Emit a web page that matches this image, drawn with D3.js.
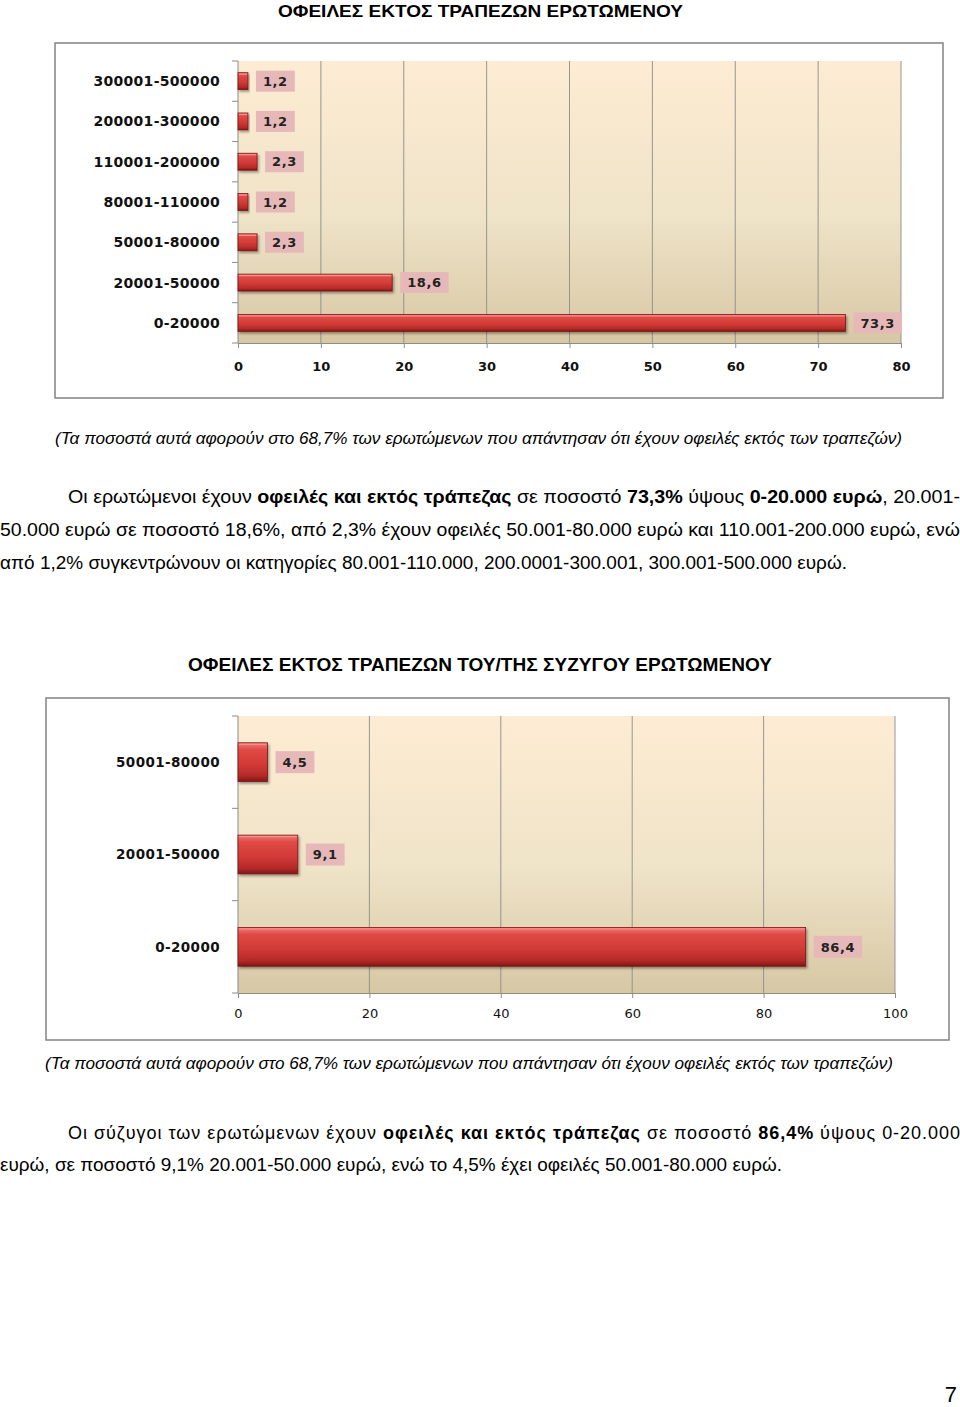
<!DOCTYPE html>
<html><head><meta charset="utf-8">
<script src="https://cdn.jsdelivr.net/npm/d3@7"></script>
<style>body{margin:0;background:#fff}svg{display:block}</style>
</head><body><svg id="c" width="960" height="1407"></svg>
<script>
// ---- data ----
const cats1 = ["300001-500000","200001-300000","110001-200000","80001-110000","50001-80000","20001-50000","0-20000"];
const vals1 = [1.2, 1.2, 2.3, 1.2, 2.3, 18.6, 73.3];
const ticks1 = [0,10,20,30,40,50,60,70,80];
const cats2 = ["50001-80000","20001-50000","0-20000"];
const vals2 = [4.5, 9.1, 86.4];
const ticks2 = [0,20,40,60,80,100];

const svg = d3.select("#c");
svg.append("rect").attr("width",960).attr("height",1407).attr("fill","#fff");
const defs = svg.append("defs");
const bg = defs.append("linearGradient").attr("id","plotbg").attr("x1",0).attr("y1",0).attr("x2",0).attr("y2",1);
bg.append("stop").attr("offset","0%").attr("stop-color","#fdecd3");
bg.append("stop").attr("offset","55%").attr("stop-color","#efe3c8");
bg.append("stop").attr("offset","100%").attr("stop-color","#d7c8a4");
const bar = defs.append("linearGradient").attr("id","bargrad").attr("x1",0).attr("y1",0).attr("x2",0).attr("y2",1);
[["0%","#ef7a74"],["18%","#e04a46"],["55%","#d23a37"],["85%","#b52a28"],["100%","#7e1716"]].forEach(s=>bar.append("stop").attr("offset",s[0]).attr("stop-color",s[1]));
const flt = defs.append("filter").attr("id","sh").attr("x","-10%").attr("y","-30%").attr("width","130%").attr("height","180%");
flt.append("feDropShadow").attr("dx",1.5).attr("dy",2).attr("stdDeviation",1.2).attr("flood-color","#000").attr("flood-opacity",0.35);

const fmt = v => String(v).replace(".", ",");

function drawChart(o){
  const g = svg.append("g");
  g.append("rect").attr("x",o.frame[0]).attr("y",o.frame[1]).attr("width",o.frame[2]).attr("height",o.frame[3])
    .attr("fill","#fff").attr("stroke","#8a8a8a").attr("stroke-width",1.6);
  const x = d3.scaleLinear().domain([0, o.max]).range([o.x0, o.x1]);
  const y = d3.scaleBand().domain(o.cats).range([o.y0, o.y1]).paddingInner(0.58).paddingOuter(0.29);
  g.append("rect").attr("x",o.x0).attr("y",o.y0).attr("width",o.x1-o.x0).attr("height",o.y1-o.y0).attr("fill","url(#plotbg)");
  // grid
  g.selectAll(".grid").data(o.ticks.slice(1)).join("line")
    .attr("x1",d=>x(d)).attr("x2",d=>x(d)).attr("y1",o.y0).attr("y2",o.y1)
    .attr("stroke","#8c8c8c").attr("stroke-width",0.9);
  // x axis
  const xa = g.append("g").attr("transform",`translate(0,${o.y1})`)
    .call(d3.axisBottom(x).tickValues(o.ticks).tickSize(5).tickSizeOuter(0).tickFormat(d3.format("d")));
  xa.select(".domain").attr("stroke","#8c8c8c");
  xa.selectAll(".tick line").attr("stroke","#8c8c8c");
  xa.selectAll("text").attr("font-family","DejaVu Sans, Verdana, sans-serif").attr("font-weight",o.tickBold?"bold":"normal")
    .attr("font-size",o.tickSize).attr("fill","#111").attr("dy",null).attr("y",o.tickDy);
  // y axis line + category ticks at boundaries
  g.append("line").attr("x1",o.x0).attr("x2",o.x0).attr("y1",o.y0).attr("y2",o.y1).attr("stroke","#8c8c8c");
  const bounds = d3.range(o.cats.length+1).map(i => o.y0 + i*(o.y1-o.y0)/o.cats.length);
  g.selectAll(".ct").data(bounds).join("line").attr("x1",o.x0-6).attr("x2",o.x0).attr("y1",d=>d).attr("y2",d=>d).attr("stroke","#8c8c8c");
  // category labels
  g.selectAll(".cl").data(o.cats).join("text")
    .attr("x",o.x0-18).attr("y",d=>y(d)+y.bandwidth()/2).attr("dy","0.36em")
    .attr("text-anchor","end").attr("font-family","DejaVu Sans, Verdana, sans-serif")
    .attr("font-weight","bold").attr("font-size",o.catSize).attr("fill","#111")
    .attr("letter-spacing",o.catLs).text(d=>d);
  // bars
  const data = o.cats.map((c,i)=>({c, v:o.vals[i]}));
  g.selectAll(".bar").data(data).join("rect")
    .attr("x",x(0)).attr("y",d=>y(d.c)).attr("width",d=>x(d.v)-x(0)).attr("height",y.bandwidth())
    .attr("fill","url(#bargrad)").attr("stroke","#7a1514").attr("stroke-width",0.8).attr("filter","url(#sh)");
  g.selectAll(".hl").data(data).join("line")
    .attr("x1",x(0)+1).attr("x2",d=>x(d.v)-1).attr("y1",d=>y(d.c)+1.5).attr("y2",d=>y(d.c)+1.5)
    .attr("stroke","#f59a94").attr("stroke-width",1);
  // value labels
  const lab = g.selectAll(".vl").data(data).join("g");
  lab.each(function(d){
    const s = d3.select(this);
    const t = s.append("text").attr("x", x(d.v)+o.gap+o.pad).attr("y", y(d.c)+y.bandwidth()/2).attr("dy","0.36em")
      .attr("font-family","DejaVu Sans, Verdana, sans-serif").attr("font-weight","bold").attr("font-size",o.valSize)
      .attr("fill","#222").attr("letter-spacing",0.6).text(fmt(d.v));
    const w = t.node().getComputedTextLength();
    s.insert("rect","text").attr("x", x(d.v)+o.gap).attr("y", y(d.c)+y.bandwidth()/2-o.boxH/2)
      .attr("width", w+2*o.pad).attr("height", o.boxH).attr("fill","#e6b9b8");
  });
}

drawChart({frame:[55,43,888,355], cats:cats1, vals:vals1, ticks:ticks1, max:80,
  x0:238, x1:901, y0:61, y1:343, tickSize:13, tickBold:true, tickDy:28, catSize:14, catLs:0.3,
  valSize:13, gap:8, pad:7, boxH:21});
drawChart({frame:[46,698,903,342], cats:cats2, vals:vals2, ticks:ticks2, max:100,
  x0:238, x1:895, y0:716, y1:993, tickSize:13, tickBold:false, tickDy:25, catSize:13.5, catLs:0.4,
  valSize:13, gap:8, pad:7, boxH:22});

// ---- texts ----
const sans = "Liberation Sans, Arial, Helvetica, sans-serif";
const narrow = "Liberation Sans Narrow, Arial Narrow, Liberation Sans, sans-serif";
function line(x, y, len, parts, opts){
  const t = svg.append("text").attr("x",x).attr("y",y).attr("font-family",opts.family)
    .attr("font-size",opts.size).attr("fill","#000");
  if (opts.italic) t.attr("font-style","italic");
  if (opts.anchor) t.attr("text-anchor",opts.anchor);
  parts.forEach(p => {
    const s = t.append("tspan").text(p[0]);
    if (p[1] || opts.bold) s.attr("font-weight","bold");
  });
  if (len) t.attr("textLength",len).attr("lengthAdjust", opts.adjust || "spacingAndGlyphs");
  return t;
}
line(278, 17, 405, [["ΟΦΕΙΛΕΣ ΕΚΤΟΣ ΤΡΑΠΕΖΩΝ ΕΡΩΤΩΜΕΝΟΥ"]], {family:sans, size:17, bold:true});
line(55, 444, 847, [["(Τα ποσοστά αυτά αφορούν στο 68,7% των ερωτώμενων που απάντησαν ότι έχουν οφειλές εκτός των τραπεζών)"]], {family:narrow, size:16, italic:true});
line(68, 503, 892, [["Οι ερωτώμενοι έχουν "],["οφειλές και εκτός τράπεζας",1],[" σε ποσοστό "],["73,3%",1],[" ύψους "],["0-20.000 ευρώ",1],[", 20.001-"]], {family:narrow, size:18});
line(0, 536, 960, [["50.000 ευρώ σε ποσοστό 18,6%, από 2,3% έχουν οφειλές 50.001-80.000 ευρώ και 110.001-200.000 ευρώ, ενώ"]], {family:narrow, size:18});
line(0, 569, 847, [["από 1,2% συγκεντρώνουν οι κατηγορίες 80.001-110.000, 200.0001-300.001, 300.001-500.000 ευρώ."]], {family:narrow, size:18});
line(188, 671, 584, [["ΟΦΕΙΛΕΣ ΕΚΤΟΣ ΤΡΑΠΕΖΩΝ ΤΟΥ/ΤΗΣ ΣΥΖΥΓΟΥ ΕΡΩΤΩΜΕΝΟΥ"]], {family:narrow, size:18, bold:true});
line(45, 1069, 848, [["(Τα ποσοστά αυτά αφορούν στο 68,7% των ερωτώμενων που απάντησαν ότι έχουν οφειλές εκτός των τραπεζών)"]], {family:narrow, size:16, italic:true});
line(68, 1139, 892, [["Οι σύζυγοι των ερωτώμενων έχουν "],["οφειλές και εκτός τράπεζας",1],[" σε ποσοστό "],["86,4%",1],[" ύψους 0-20.000"]], {family:narrow, size:18, adjust:"spacing"});
line(0, 1171, 782, [["ευρώ, σε ποσοστό 9,1% 20.001-50.000 ευρώ, ενώ το 4,5% έχει οφειλές 50.001-80.000 ευρώ."]], {family:narrow, size:18});
line(957, 1402, null, [["7"]], {family:sans, size:22, anchor:"end"});
</script></body></html>
